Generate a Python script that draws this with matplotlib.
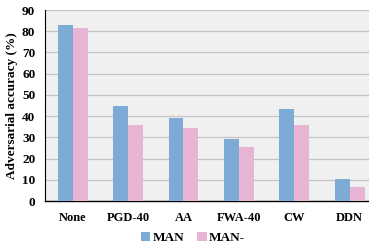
import numpy as np
import matplotlib.pyplot as plt

categories = ["None", "PGD-40", "AA", "FWA-40", "CW", "DDN"]
man = [82.8, 44.8, 39.3, 29.4, 43.2, 10.4]
man_minus = [81.5, 35.8, 34.4, 25.3, 35.7, 6.4]

plt.rcParams['font.family'] = ['Liberation Serif', 'DejaVu Serif']
plt.rcParams['font.weight'] = 'bold'

fig = plt.figure(figsize=(3.69, 2.46), dpi=100)
ax = fig.add_axes([45 / 369, 45 / 246, 324 / 369, 191 / 246])
ax.set_facecolor('#f0f0f0')

x = np.arange(len(categories))
w = 0.27
ax.bar(x - w / 2, man, w, color='#7eaad6', label='MAN', zorder=3)
ax.bar(x + w / 2, man_minus, w, color='#e8b4d4', label='MAN-', zorder=3)

ax.set_ylim(0, 90)
ax.set_yticks(range(0, 91, 10))
ax.set_xlim(-0.5, 5.35)
ax.set_xticks(x)
ax.set_xticklabels(categories, fontsize=9, fontweight='bold')
ax.tick_params(axis='y', labelsize=9.5, length=0, pad=7)
ax.tick_params(axis='x', length=0, pad=8)
for t in ax.get_yticklabels():
    t.set_fontweight('bold')
ax.grid(axis='y', color='#c4c4c4', linewidth=0.9, zorder=0)
ax.set_ylabel("Adversarial accuracy (%)", fontsize=9.5, fontweight='bold', labelpad=3)

for s in ['top', 'right']:
    ax.spines[s].set_visible(False)
ax.spines['left'].set_color('black')
ax.spines['left'].set_linewidth(0.8)
ax.spines['bottom'].set_color('black')
ax.spines['bottom'].set_linewidth(1.0)

leg = ax.legend(loc='center', bbox_to_anchor=(193 / 369, 8 / 246), bbox_transform=fig.transFigure,
                ncol=2, frameon=False, handlelength=0.7, handleheight=0.7, handletextpad=0.2,
                columnspacing=1.0, borderpad=0, prop={'weight': 'bold', 'size': 9.5})

fig.savefig('out.png', dpi=100)
